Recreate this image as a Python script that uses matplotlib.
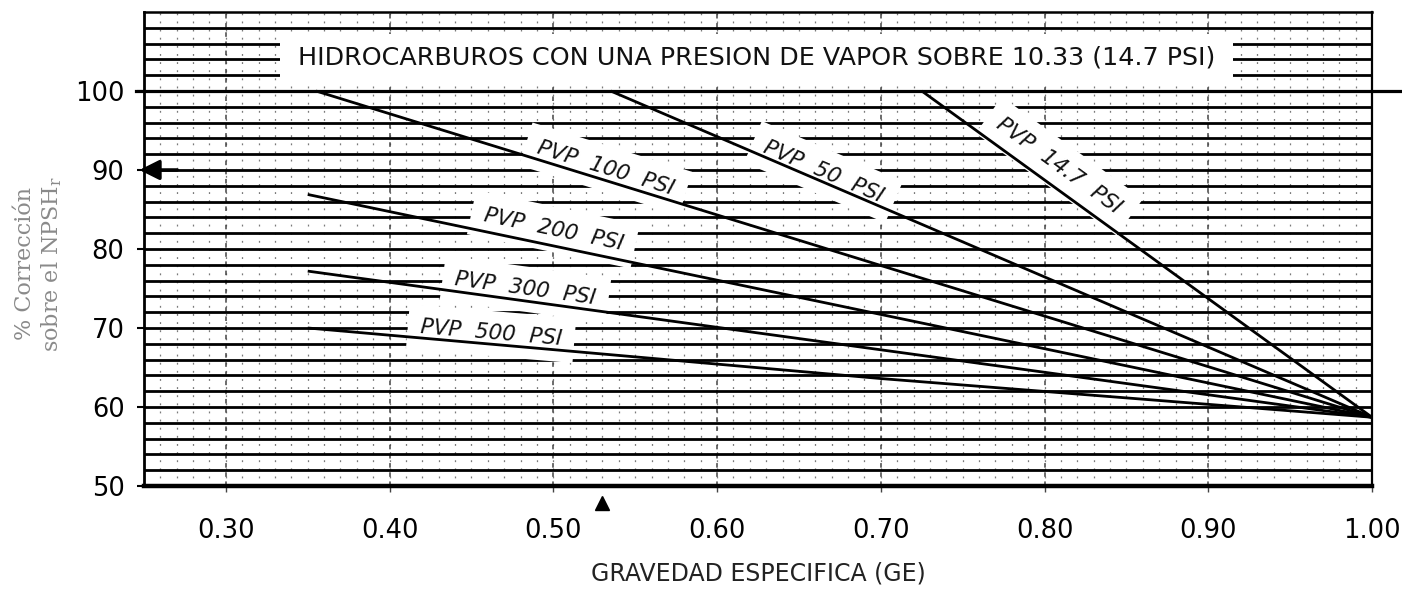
import numpy as np
import matplotlib
matplotlib.use("Agg")
import matplotlib.pyplot as plt
from matplotlib.patches import Rectangle

# --- data -----------------------------------------------------------------
# Correction (% of NPSHr) vs specific gravity for each vapour pressure curve
pvp_names = ["PVP 14.7 PSI", "PVP 50 PSI", "PVP 100 PSI",
             "PVP 200 PSI", "PVP 300 PSI", "PVP 500 PSI"]
ge_pvp_14_7 = [0.725, 1.00]
corr_pvp_14_7 = [100.0, 58.7]
ge_pvp_50 = [0.535, 1.00]
corr_pvp_50 = [100.0, 58.7]
ge_pvp_100 = [0.355, 1.00]
corr_pvp_100 = [100.0, 58.7]
ge_pvp_200 = [0.35, 1.00]
corr_pvp_200 = [86.9, 58.7]
ge_pvp_300 = [0.35, 1.00]
corr_pvp_300 = [77.2, 58.7]
ge_pvp_500 = [0.35, 0.70, 1.00]
corr_pvp_500 = [70.0, 63.6, 58.7]

x_ticks = [0.30, 0.40, 0.50, 0.60, 0.70, 0.80, 0.90, 1.00]
x_tick_labels = ["0.30", "0.40", "0.50", "0.60", "0.70", "0.80", "0.90", "1.00"]
y_ticks = [50, 60, 70, 80, 90, 100]
y_tick_labels = ["50", "60", "70", "80", "90", "100"]

reference_level = 100          # horizontal line that runs past the frame
arrow_level = 90               # level marked with the arrow on the left
ge_marker = 0.53               # marked specific gravity on the x axis

title_text = "HIDROCARBUROS CON UNA PRESION DE VAPOR SOBRE 10.33 (14.7 PSI)"
x_label = "GRAVEDAD ESPECIFICA (GE)"

# --- layout ---------------------------------------------------------------
curves = [
    (ge_pvp_14_7, corr_pvp_14_7),
    (ge_pvp_50, corr_pvp_50),
    (ge_pvp_100, corr_pvp_100),
    (ge_pvp_200, corr_pvp_200),
    (ge_pvp_300, corr_pvp_300),
    (ge_pvp_500, corr_pvp_500),
]
# where each curve label sits: GE position and lift above its curve
label_ge = [0.809, 0.665, 0.532, 0.500, 0.483, 0.462]
label_lift = [3.1, 1.3, 1.5, 2.1, 1.5, 1.35]

plt.rcParams["font.family"] = ["DejaVu Sans"]

fig = plt.figure(figsize=(14.02, 5.90), dpi=100)
ax = fig.add_axes([0.1027, 0.1763, 0.8759, 0.8034])
ax.set_xlim(0.25, 1.00)
ax.set_ylim(50, 110)

# vertical rulings every 0.01, a little heavier every 0.1
for g in np.arange(0.26, 1.0, 0.01):
    ax.axvline(g, color="#7a7a7a", lw=0.9, ls=(0, (1.5, 5)), zorder=1)
for g in np.arange(0.30, 0.95, 0.10):
    ax.axvline(g, color="#444444", lw=1.1, ls=(0, (3, 3)), zorder=1)

# horizontal rulings every 2 %
for lvl in range(52, 110, 2):
    ax.axhline(lvl, color="black", lw=2.0, zorder=1.2)

ax.plot([0.245, 1.02], [reference_level, reference_level], color="black",
        lw=2.3, clip_on=False, zorder=1.3)

# title panel
ax.add_patch(Rectangle((0.333, 100.8), 0.582, 6.4, facecolor="white",
                       edgecolor="none", zorder=2))
ax.text(0.624, 104.2, title_text, ha="center", va="center", fontsize=18.3,
        color="#111111", zorder=4)

# curve labels on white panels, rotated along their curve
for (ge, corr), name, lg, lift in zip(curves, pvp_names, label_ge, label_lift):
    ge = np.asarray(ge)
    corr = np.asarray(corr)
    y_on = np.interp(lg, ge, corr)
    slope = np.interp(lg, ge[:-1], np.diff(corr) / np.diff(ge))
    ang = np.degrees(np.arctan(slope))
    ax.text(lg, y_on + lift, name.replace(" ", "  "), ha="center", va="center",
            rotation=ang, rotation_mode="anchor", transform_rotates_text=True,
            fontsize=15.5, style="italic", color="#111111", zorder=2.5,
            bbox=dict(facecolor="white", edgecolor="none", pad=9))

# the curves
for ge, corr in curves:
    ax.plot(ge, corr, color="black", lw=2.0, zorder=3, solid_capstyle="butt")

# arrow at the left edge and marker under the axis
ax.annotate("", xy=(0.2455, arrow_level), xytext=(0.272, arrow_level),
            arrowprops=dict(arrowstyle="-|>", color="black", lw=2.5,
                            mutation_scale=30), annotation_clip=False, zorder=5)
ax.plot([ge_marker], [-0.036], marker="^", color="black", markersize=10.5,
        transform=ax.get_xaxis_transform(), clip_on=False, zorder=5)

# frame
for side, lw in (("left", 2.0), ("bottom", 3.2), ("top", 1.8), ("right", 1.6)):
    ax.spines[side].set_linewidth(lw)
    ax.spines[side].set_zorder(6)

ax.set_xticks(x_ticks)
ax.set_xticklabels(x_tick_labels)
ax.set_yticks(y_ticks)
ax.set_yticklabels(y_tick_labels)
ax.tick_params(axis="x", length=4, width=1, pad=19, labelsize=18.5, color="#444444")
ax.tick_params(axis="y", length=5, width=1.5, pad=9, labelsize=18.5)

ax.set_xlabel(x_label, fontsize=17, labelpad=13, color="#222222")

fig.text(0.018, 0.553, "% Corrección", rotation=90, ha="center", va="center",
         fontsize=16, family="DejaVu Serif", color="#8a8a8a")
fig.text(0.037, 0.553, r"sobre el NPSH$_\mathregular{r}$", rotation=90,
         ha="center", va="center", fontsize=16, family="DejaVu Serif",
         color="#8a8a8a")

fig.savefig("out.png", dpi=100, facecolor="white")
